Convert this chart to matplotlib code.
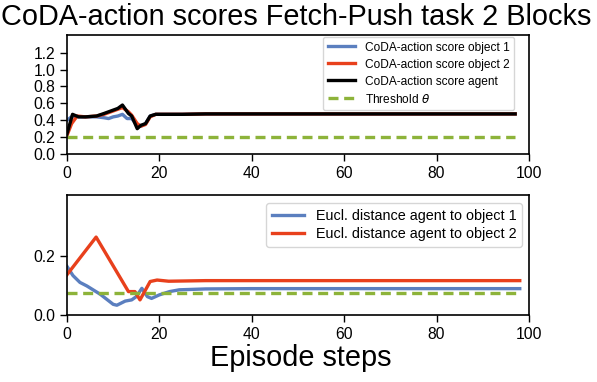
import matplotlib
matplotlib.use("Agg")
import matplotlib.pyplot as plt

plt.rcParams['font.family'] = ['Liberation Sans', 'DejaVu Sans']
plt.rcParams['mathtext.fontset'] = 'dejavusans'

# ---- top panel data (CoDA-action scores) ----
top_steps_agent = [0, 1.2, 2.5, 4, 6.4, 8, 10, 11, 12, 13.3, 14, 15.2, 16, 17, 18, 19.2, 21, 25, 30, 40, 50, 60, 70, 80, 90, 97]
top_agent = [0.24, 0.47, 0.44, 0.44, 0.45, 0.48, 0.52, 0.54, 0.58, 0.48, 0.45, 0.30, 0.34, 0.36, 0.45, 0.47, 0.47, 0.47, 0.475, 0.475, 0.475, 0.475, 0.475, 0.475, 0.475, 0.475]
top_steps_obj2 = [0, 1, 2.2, 4, 6.4, 8, 10, 11, 12, 13.3, 14, 15.2, 16, 17, 18, 19.2, 21, 25, 30, 40, 50, 60, 70, 80, 90, 97]
top_obj2 = [0.22, 0.36, 0.45, 0.44, 0.45, 0.47, 0.51, 0.53, 0.55, 0.50, 0.46, 0.36, 0.33, 0.35, 0.44, 0.47, 0.47, 0.47, 0.475, 0.475, 0.475, 0.475, 0.475, 0.475, 0.475, 0.475]
top_steps_obj1 = [0, 1.2, 2.5, 4, 6.4, 8, 9, 10, 11, 12, 13, 14, 15.2, 16, 17, 18, 19.2, 21, 25, 30, 40, 50, 60, 70, 80, 90, 97]
top_obj1 = [0.40, 0.45, 0.44, 0.44, 0.44, 0.43, 0.42, 0.44, 0.45, 0.47, 0.42, 0.42, 0.34, 0.33, 0.36, 0.45, 0.47, 0.47, 0.47, 0.475, 0.475, 0.475, 0.475, 0.475, 0.475, 0.475, 0.475]
top_threshold = 0.2
top_threshold_span = [0, 97]

# ---- bottom panel data (Euclidean distances) ----
bot_steps_obj2 = [0, 6.3, 13.3, 14.7, 15.8, 18, 19.5, 22, 30, 40, 50, 60, 70, 80, 90, 98]
bot_obj2 = [0.136, 0.263, 0.079, 0.079, 0.051, 0.113, 0.118, 0.114, 0.116, 0.116, 0.116, 0.116, 0.116, 0.116, 0.116, 0.116]
bot_steps_obj1 = [0, 1.3, 2.8, 4.3, 7.2, 10, 10.8, 12.6, 14, 15, 16.2, 17.4, 18.3, 20, 22.2, 24.3, 30, 40, 50, 60, 70, 80, 90, 98]
bot_obj1 = [0.164, 0.133, 0.11, 0.098, 0.07, 0.036, 0.033, 0.047, 0.051, 0.062, 0.09, 0.062, 0.056, 0.068, 0.079, 0.085, 0.088, 0.089, 0.089, 0.089, 0.089, 0.089, 0.089, 0.089]
bot_threshold = 0.073
bot_threshold_span = [0, 98]

xticks = [0, 20, 40, 60, 80, 100]
top_yticks = [0.0, 0.2, 0.4, 0.6, 0.8, 1.0, 1.2]
bot_yticks = [0.0, 0.2]

BLUE = '#5b7fbf'
RED = '#e8401c'
GREEN = '#8db33a'
DASH = (0, (3.0, 1.7))

fig = plt.figure(figsize=(5.97, 3.82), dpi=100)
ax1 = fig.add_axes([67/597, 1-154/382, 462/597, 119/382])
ax2 = fig.add_axes([67/597, 1-315/382, 462/597, 120/382])

lw = 2.4
ax1.plot(top_steps_obj1, top_obj1, color=BLUE, lw=lw, label='CoDA-action score object 1')
ax1.plot(top_steps_obj2, top_obj2, color=RED, lw=lw, label='CoDA-action score object 2')
ax1.plot(top_steps_agent, top_agent, color='black', lw=lw, label='CoDA-action score agent')
ax1.plot(top_threshold_span, [top_threshold]*2, color=GREEN, lw=lw, ls=DASH, label=r'Threshold $\theta$')
ax1.set_xlim(0, 100)
ax1.set_ylim(0, 1.41)
ax1.set_yticks(top_yticks)
ax1.set_yticklabels([f'{v:.1f}' for v in top_yticks])
ax1.set_xticks(xticks)
ax1.legend(loc='upper right', bbox_to_anchor=(0.968, 0.985), borderaxespad=0,
           fontsize=8.6, handlelength=2.3, labelspacing=0.42)

ax2.plot(bot_steps_obj1, bot_obj1, color=BLUE, lw=lw, label='Eucl. distance agent to object 1')
ax2.plot(bot_steps_obj2, bot_obj2, color=RED, lw=lw, label='Eucl. distance agent to object 2')
ax2.plot(bot_threshold_span, [bot_threshold]*2, color=GREEN, lw=lw, ls=DASH)
ax2.set_xlim(0, 100)
ax2.set_ylim(0, 0.405)
ax2.set_yticks(bot_yticks)
ax2.set_yticklabels([f'{v:.1f}' for v in bot_yticks])
ax2.set_xticks(xticks)
ax2.legend(loc='upper right', bbox_to_anchor=(0.985, 0.935), borderaxespad=0,
           fontsize=10.4, handlelength=2.2, labelspacing=0.3)

for ax in (ax1, ax2):
    ax.tick_params(labelsize=11.3, length=5, width=1, direction='out')
    for s in ax.spines.values():
        s.set_linewidth(1.2)

fig.text(0.496, 1-25/382, 'CoDA-action scores Fetch-Push task 2 Blocks', fontsize=20.8,
         ha='center', va='baseline')
fig.text(0.503, 1-366/382, 'Episode steps', fontsize=20.8, ha='center', va='baseline')

fig.savefig('out.png', dpi=100)
